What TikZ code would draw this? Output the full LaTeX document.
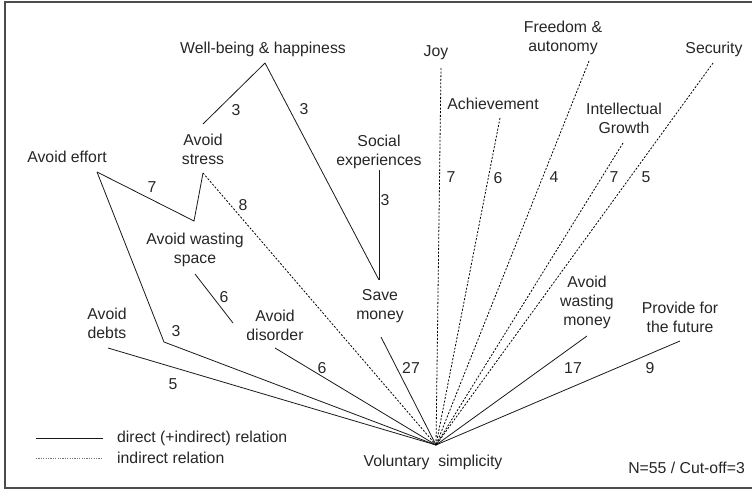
\documentclass[tikz,border=0pt]{standalone}
\usepackage{fontspec}
\setmainfont{Liberation Sans}
\begin{document}
\begin{tikzpicture}[x=1pt,y=-1pt,
  lbl/.style={inner sep=0pt,align=center,text=black!85,font=\fontsize{15.8}{19}\selectfont},
  num/.style={lbl},
  solidline/.style={line width=0.8pt,black!90},
  dotline/.style={line width=0.8pt,black,dash pattern=on 2pt off 1.6pt},
  legdot/.style={line width=0.8pt,black!55,dash pattern=on 1.2pt off 1.2pt},
  frameline/.style={line width=1.6pt,black!70}]
\useasboundingbox (0,0) rectangle (752,489);
\draw[frameline] (753,2) -- (5,2) -- (5,488) -- (753,488);

% text nodes
\node[lbl] (wb) at (263,49) {Well-being \& happiness};
\node[lbl] (stress) at (203,149) {Avoid\\stress};
\node[lbl] (effort) at (67,157) {Avoid effort};
\node[lbl] (social) at (379,152) {Social\\experiences};
\node[lbl] (joy) at (436,53) {Joy};
\node[lbl] (freedom) at (563,38) {Freedom \&\\autonomy};
\node[lbl] (security) at (714,49) {Security};
\node[lbl] (achieve) at (493,104) {Achievement};
\node[lbl] (intel) at (624,118) {Intellectual\\Growth};
\node[lbl] (space) at (195,250) {Avoid wasting\\space};
\node[lbl] (debts) at (107,323) {Avoid\\debts};
\node[lbl] (disorder) at (275,325) {Avoid\\disorder};
\node[lbl] (save) at (380,306) {Save\\money};
\node[lbl] (wmoney) at (587,302) {Avoid\\wasting\\money};
\node[lbl] (future) at (680,317) {Provide for\\the future};
\node[lbl] (vs) at (433,462) {Voluntary\ \ simplicity};
\node[lbl,anchor=east] (nn) at (745,468) {N=55 / Cut-off=3};

% connector end points
\coordinate (hub) at (436,445);
\coordinate (wbS) at (265,63);
\coordinate (stressN) at (203,124);
\coordinate (stressS) at (203,173);
\coordinate (effortS) at (97,172);
\coordinate (effortBend) at (164,342);
\coordinate (effortMid) at (194,221);
\coordinate (socialS) at (379,170);
\coordinate (saveN) at (379,280);
\coordinate (saveS) at (381,337);
\coordinate (spaceS) at (195,274);
\coordinate (disorderN) at (233,323);
\coordinate (disorderS) at (275,348);
\coordinate (debtsS) at (108,348);
\coordinate (wmoneyS) at (587,336);
\coordinate (futureS) at (680,341);
\coordinate (joyS) at (441,68);
\coordinate (achieveS) at (500,118);
\coordinate (freedomS) at (589,61);
\coordinate (intelS) at (623,143);
\coordinate (securityS) at (713,63);

% solid connectors
\draw[solidline] (debtsS) -- (hub);
\draw[solidline] (effortS) -- (effortBend) -- (hub);
\draw[solidline] (effortS) -- (effortMid) -- (stressS);
\draw[solidline] (stressN) -- (wbS);
\draw[solidline] (wbS) -- (saveN);
\draw[solidline] (socialS) -- (saveN);
\draw[solidline] (spaceS) -- (disorderN);
\draw[solidline] (disorderS) -- (hub);
\draw[solidline] (saveS) -- (hub);
\draw[solidline] (wmoneyS) -- (hub);
\draw[solidline] (futureS) -- (hub);

% dotted connectors
\draw[dotline] (stressS) -- (hub);
\draw[dotline] (joyS) -- (hub);
\draw[dotline] (achieveS) -- (hub);
\draw[dotline] (freedomS) -- (hub);
\draw[dotline] (intelS) -- (hub);
\draw[dotline] (securityS) -- (hub);

% numbers
\node[num] (n1) at (173,384) {5};
\node[num] (n2) at (176,331) {3};
\node[num] (n3) at (152,187) {7};
\node[num] (n4) at (236,110) {3};
\node[num] (n5) at (304,109) {3};
\node[num] (n6) at (385,200) {3};
\node[num] (n7) at (224,297) {6};
\node[num] (n8) at (322,368) {6};
\node[num] (n9) at (411,368) {27};
\node[num] (n10) at (573,368) {17};
\node[num] (n11) at (650,368) {9};
\node[num] (n12) at (243,205) {8};
\node[num] (n13) at (451,177) {7};
\node[num] (n14) at (498,178) {6};
\node[num] (n15) at (554,177) {4};
\node[num] (n16) at (614,177) {7};
\node[num] (n17) at (646,177) {5};

% legend
\coordinate (l1a) at (36,438);
\coordinate (l1b) at (103,438);
\coordinate (l2a) at (36,458);
\coordinate (l2b) at (103,458);
\draw[solidline] (l1a) -- (l1b);
\draw[legdot] (l2a) -- (l2b);
\node[lbl,anchor=west] (leg1) at (117,438) {direct (+indirect) relation};
\node[lbl,anchor=west] (leg2) at (117,458) {indirect relation};
\end{tikzpicture}
\end{document}
